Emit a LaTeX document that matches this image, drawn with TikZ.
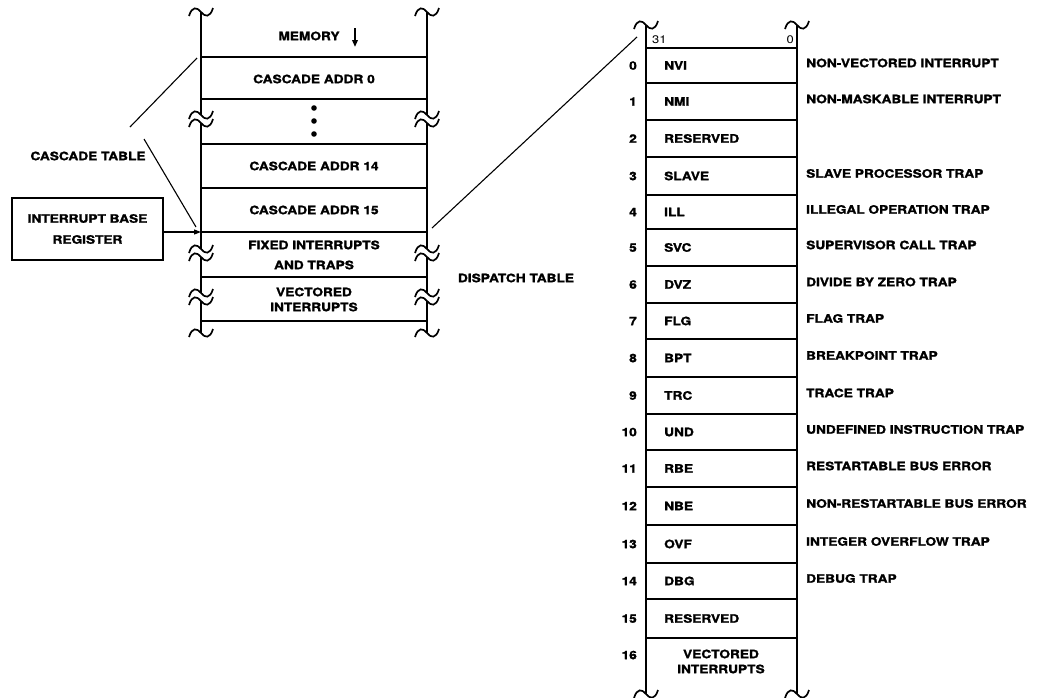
\documentclass[tikz,border=0pt]{standalone}
\usepackage{fontspec}
\setmainfont{TeX Gyre Heros}[FakeStretch=1.18, BoldFeatures={FakeBold=1.6}]
\usetikzlibrary{arrows.meta}
\newcommand\tld[2]{\draw[tildeline] ({#1-12},{#2+4}) .. controls ({#1-9},{#2-6}) and ({#1-4},{#2-5}) .. (#1,#2) .. controls ({#1+4},{#2+5}) and ({#1+9},{#2+6}) .. ({#1+12},{#2-4});}
\begin{document}
\begin{tikzpicture}[x=1pt,y=-1pt,
  frame/.style={line width=1.8pt},
  thinline/.style={line width=1.1pt},
  tildeline/.style={line width=1.7pt},
  lbl/.style={font=\fontsize{11.6}{13}\selectfont\bfseries, inner sep=0pt, text height=8.4pt, text depth=0pt},
  num/.style={font=\fontsize{11}{13}\selectfont, inner sep=0pt, text height=8pt, text depth=0pt},
  regbox/.style={draw, line width=1.8pt, minimum width=151pt, minimum height=62pt, inner sep=0pt, align=center, font=\fontsize{11.6}{21}\selectfont\bfseries}]
\useasboundingbox (0,0) rectangle (1037,697);

% ---------------- left memory column ----------------
\foreach \x in {201,427}{
  \draw[frame] (\x,12) -- (\x,115);
  \draw[frame] (\x,123) -- (\x,249);
  \draw[frame] (\x,257) -- (\x,293);
  \draw[frame] (\x,301) -- (\x,333);
  \tld{\x}{12}
  \tld{\x}{115}\tld{\x}{123}
  \tld{\x}{249}\tld{\x}{257}
  \tld{\x}{293}\tld{\x}{301}
  \tld{\x}{333}
}
\foreach \y in {57,99,144,188,232,277,321}{
  \draw[frame] (201,\y) -- (427,\y);
}
\node[lbl] (mem) at (309,36) {MEMORY};
\coordinate (memA) at (355,28);
\coordinate (memB) at (355,47);
\draw[line width=1.8pt,-{Triangle[length=7pt,width=5.5pt]}] (memA) -- (memB);
\node[lbl] (ca0) at (314,79) {CASCADE ADDR 0};
\foreach \y/\nm in {108/d1,121/d2,134/d3}{
  \fill (314,\y) coordinate (\nm) circle (2.8pt);
}
\node[lbl] (ca14) at (314,166) {CASCADE ADDR 14};
\node[lbl] (ca15) at (314,210) {CASCADE ADDR 15};
\node[lbl] (fx1) at (314,245) {FIXED INTERRUPTS};
\node[lbl] (fx2) at (314,265) {AND TRAPS};
\node[lbl] (vi1) at (314,292) {VECTORED};
\node[lbl] (vi2) at (314,307) {INTERRUPTS};

% ---------------- cascade table label ----------------
\node[lbl] (ct) at (88,156) {CASCADE TABLE};
\coordinate (ctA) at (130,127);
\coordinate (ctTop) at (197,58);
\coordinate (ctB) at (144,139);
\coordinate (ctBot) at (196,227);
\draw[thinline] (ctA) -- (ctTop);
\draw[thinline] (ctB) -- (ctBot);

% ---------------- interrupt base register ----------------
\node[regbox] (ibr) at (87.5,229) {INTERRUPT BASE\\REGISTER};
\coordinate (ibrin) at (201,232);
\draw[thinline,-{Triangle[length=7pt,width=5pt]}] (ibr.east |- ibrin) -- (ibrin);

% ---------------- dispatch ----------------
\node[lbl] (dt) at (516,278) {DISPATCH TABLE};
\coordinate (dlA) at (432,228);
\coordinate (dlB) at (637,37);
\draw[thinline] (dlA) -- (dlB);

% ---------------- right dispatch table ----------------
\foreach \x in {646,797}{
  \draw[frame] (\x,25) -- (\x,694);
  \tld{\x}{25}
  \tld{\x}{694}
}
\foreach \y in {48,83,120,157,195,229,266,303,339,377,414,450,487,525,563,599,638}{
  \draw[frame] (646,\y) -- (797,\y);
}
\node[num,anchor=west] (b31) at (652,39) {31};
\node[num,anchor=east] (b0) at (794,39) {0};

\foreach \n/\yc/\m in {0/65.5/NVI,1/101.5/NMI,2/138.5/RESERVED,3/176/SLAVE,4/212/ILL,5/247.5/SVC,6/284.5/DVZ,7/321/FLG,8/358/BPT,9/395.5/TRC,10/432/UND,11/468.5/RBE,12/506/NBE,13/544/OVF,14/581/DBG,15/618.5/RESERVED}{
  \node[lbl,anchor=east] (n\n) at (637,\yc) {\n};
  \node[lbl,anchor=west] (m\n) at (664,\yc) {\m};
}
\foreach \n/\yc/\d in {0/65.5/NON-VECTORED INTERRUPT,1/101.5/NON-MASKABLE INTERRUPT,3/176/SLAVE PROCESSOR TRAP,4/212/ILLEGAL OPERATION TRAP,5/247.5/SUPERVISOR CALL TRAP,6/284.5/DIVIDE BY ZERO TRAP,7/321/FLAG TRAP,8/358/BREAKPOINT TRAP,9/395.5/TRACE TRAP,10/432/UNDEFINED INSTRUCTION TRAP,11/468.5/RESTARTABLE BUS ERROR,12/506/NON-RESTARTABLE BUS ERROR,13/544/INTEGER OVERFLOW TRAP,14/581/DEBUG TRAP}{
  \node[lbl,anchor=west] (e\n) at (806,\yc-2.5) {\d};
}
\node[lbl,anchor=east] (n16) at (637,655) {16};
\node[lbl] (v16a) at (721,654) {VECTORED};
\node[lbl] (v16b) at (721,669) {INTERRUPTS};
\end{tikzpicture}
\end{document}
